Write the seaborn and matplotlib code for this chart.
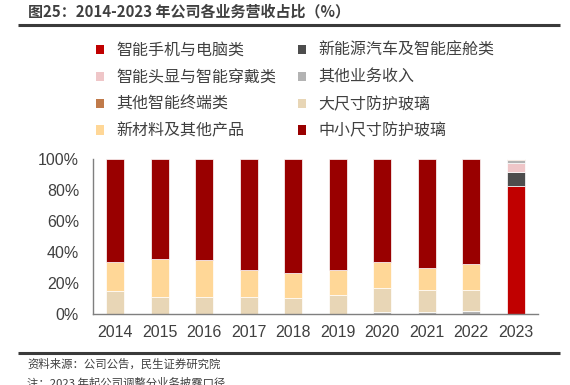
import numpy as np
import pandas as pd
import matplotlib
matplotlib.use("Agg")
import matplotlib.pyplot as plt
from matplotlib.patches import Patch
from matplotlib.ticker import FuncFormatter, FixedLocator
import seaborn as sns

# Data (share of revenue, %)
years = [2014, 2015, 2016, 2017, 2018, 2019, 2020, 2021, 2022, 2023]
smartphone_pc = [0, 0, 0, 0, 0, 0, 0, 0, 0, 82.3]
ev_cockpit = [0, 0, 0, 0, 0, 0, 0, 0, 0, 9.1]
headset_wearable = [0, 0, 0, 0, 0, 0, 0, 0, 0, 6.0]
other_business = [0, 0, 0, 0, 0, 0, 1.5, 1.5, 2.2, 1.8]
other_terminal = [0, 0, 0, 0, 0, 0, 0, 0, 0, 0.8]
large_glass = [15.1, 10.8, 10.8, 10.8, 10.1, 12.5, 15.5, 14.0, 13.3, 0]
new_material = [18.7, 24.5, 24.1, 17.4, 16.6, 16.2, 16.4, 14.2, 16.8, 0]
small_mid_glass = [66.2, 64.7, 65.1, 71.8, 73.3, 71.3, 66.6, 70.3, 67.7, 0]

series_names = ["智能手机与电脑类", "新能源汽车及智能座舱类", "智能头显与智能穿戴类", "其他业务收入",
                "其他智能终端类", "大尺寸防护玻璃", "新材料及其他产品", "中小尺寸防护玻璃"]
series_values = [smartphone_pc, ev_cockpit, headset_wearable, other_business,
                 other_terminal, large_glass, new_material, small_mid_glass]
colors = ["#C00000", "#4D4D4D", "#EFC6C8", "#B3B3B3", "#C07A4A", "#E8D6B6", "#FFD797", "#990000"]

rows = []
for name, vals in zip(series_names, series_values):
    for y, v in zip(years, vals):
        rows.append({"year": y, "segment": name, "share": v})
df = pd.DataFrame(rows)

sns.set_style("white")
plt.rcParams["font.family"] = ["Liberation Sans", "Noto Sans CJK SC", "DejaVu Sans"]
text_color = "#404040"

fig = plt.figure(figsize=(5.7, 3.85), dpi=100)

# full-figure overlay axes for the header/footer rules
ax_bg = fig.add_axes([0, 0, 1, 1], zorder=0)
ax_bg.set_xlim(0, 570)
ax_bg.set_ylim(385, 0)
ax_bg.axis("off")
ax_bg.hlines([25, 353], 18, 560, color="#3a3a3a", linewidth=2.2)

ax = fig.add_axes([93 / 570, 1 - 314 / 385, (538 - 93) / 570, (314 - 159) / 385], zorder=1)
ax.patch.set_alpha(0)

# seaborn stacks the last hue level at the bottom
hue_order = series_names[::-1]
palette = dict(zip(series_names, colors))
sns.histplot(data=df, x="year", weights="share", hue="segment", hue_order=hue_order,
             palette=palette, multiple="stack", discrete=True, shrink=0.41,
             alpha=1, edgecolor="white", linewidth=0.5, legend=False, ax=ax)

ax.set_xlim(years[0] - 0.5, years[-1] + 0.5)
ax.set_ylim(0, 100)
ax.set_xlabel("")
ax.set_ylabel("")
ax.set_yticks([0, 20, 40, 60, 80, 100])
ax.yaxis.set_major_formatter(FuncFormatter(lambda v, p: f"{v:.0f}%"))
ax.set_xticks(years)
ax.set_xticklabels([str(y) for y in years])
ax.xaxis.set_minor_locator(FixedLocator(np.arange(years[0] - 0.5, years[-1] + 1, 1)))
ax.tick_params(axis="x", which="major", length=0, pad=8, labelsize=11.5, colors=text_color)
ax.tick_params(axis="x", which="minor", length=4, width=1, color="#7f7f7f", direction="out")
ax.tick_params(axis="y", length=4, width=1, color="#7f7f7f", direction="out",
               labelsize=11.5, labelcolor=text_color, pad=6)
for s in ["top", "right"]:
    ax.spines[s].set_visible(False)
for s in ["left", "bottom"]:
    ax.spines[s].set_color("#7f7f7f")
    ax.spines[s].set_linewidth(1)

# legend: two columns, row-major order
order = [0, 2, 4, 6, 1, 3, 5, 7]
handles = [Patch(facecolor=colors[i], edgecolor="none", label=series_names[i]) for i in order]
fig.legend(handles=handles, ncol=2, loc="upper left", bbox_to_anchor=(88 / 570, 1 - 34 / 385),
           frameon=False, prop={"family": "Noto Sans CJK SC", "size": 11.5},
           labelcolor=text_color, handlelength=0.5, handleheight=0.5, handletextpad=0.8,
           columnspacing=1.3, labelspacing=0.62, borderpad=0)

# title and footer
fig.text(28 / 570, 1 - 12 / 385, "图25：2014-2023 年公司各业务营收占比（%）", fontsize=10.8,
         fontweight="bold", color=text_color, va="center", family=["Noto Sans CJK SC"])
fig.text(27 / 570, 1 - 364 / 385, "资料来源：公司公告，民生证券研究院", fontsize=8.2,
         color=text_color, va="center", family=["Noto Sans CJK SC"])
fig.text(27 / 570, 1 - 377 / 385, "注：2023 年起公司调整分业务披露口径", fontsize=8.2,
         color=text_color, va="top", family=["Noto Sans CJK SC"])

fig.savefig("out.png", dpi=100)
